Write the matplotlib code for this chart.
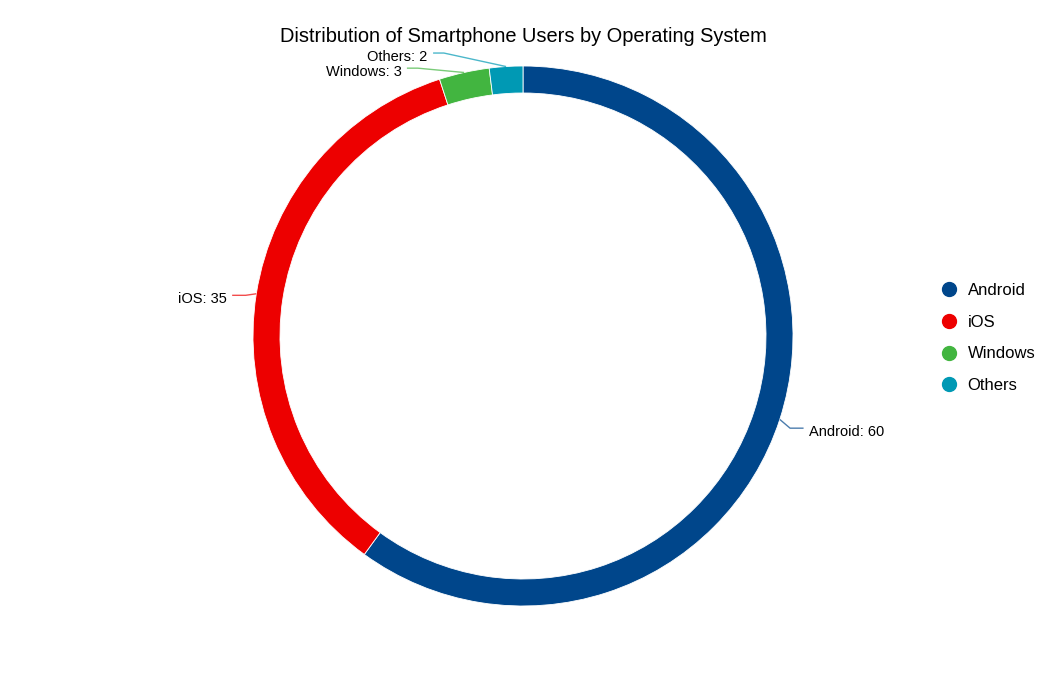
import numpy as np
import matplotlib.pyplot as plt
from matplotlib.lines import Line2D

plt.rcParams['font.family'] = ['Liberation Sans', 'DejaVu Sans']

# datos
systems = ["Android", "iOS", "Windows", "Others"]
users = [60, 35, 3, 2]
colors = ["#00468B", "#ED0000", "#42B540", "#0099B4"]

# posicion de las etiquetas (codo y final de la linea, en radios)
elbow_r = [1.04, 1.04, None, None]
elbow_dy = [-0.02, -0.012, 0, 0]
label_y = [None, None, 0.992, 1.048]
label_x = [None, None, -0.43, -0.333]

fig = plt.figure(figsize=(10.46, 6.74), dpi=100)
ax = fig.add_axes([118 / 1046, 14 / 674, 810 / 1046, 648 / 674])

wedges, _ = ax.pie(users, colors=colors, startangle=90, counterclock=False,
                   radius=1.0, wedgeprops=dict(width=0.1, edgecolor="white", linewidth=0.6),
                   normalize=True)
ax.set_aspect("auto")
ax.set_xlim(-1.5, 1.5)
ax.set_ylim(-1.2, 1.2)
ax.axis("off")

dy_txt = -4 / 270
for i, w in enumerate(wedges):
    ang = np.deg2rad((w.theta1 + w.theta2) / 2)
    x0, y0 = np.cos(ang), np.sin(ang)
    side = 1 if x0 > 0 else -1
    if elbow_r[i] is not None:
        x1, y1 = elbow_r[i] * x0, elbow_r[i] * y0 + elbow_dy[i]
        x2 = x1 + side * 0.05
        pts_x, pts_y = [x0, x1, x2], [y0, y1, y1]
        ty = y1
    else:
        x2 = label_x[i]
        x1 = x2 + 0.04
        ty = label_y[i]
        pts_x, pts_y = [x0, x1, x2], [y0, ty, ty]
    ax.plot(pts_x, pts_y, color=colors[i], lw=1, alpha=0.7, solid_capstyle="butt")
    ax.text(x2 + side * 0.02, ty + dy_txt, f"{systems[i]}: {users[i]}",
            ha="left" if side > 0 else "right", va="center", fontsize=10.5)

fig.text(0.5, 1 - 36 / 674, "Distribution of Smartphone Users by Operating System",
         ha="center", va="center", fontsize=14.4)

handles = [Line2D([], [], marker="o", ls="", color=c, markersize=10) for c in colors]
fig.legend(handles, systems, loc="center left", bbox_to_anchor=(926 / 1046, 0.4985),
           frameon=False, fontsize=12, handletextpad=0.6, labelspacing=1.0,
           handlelength=1.0)

plt.savefig("out.png", dpi=100)
